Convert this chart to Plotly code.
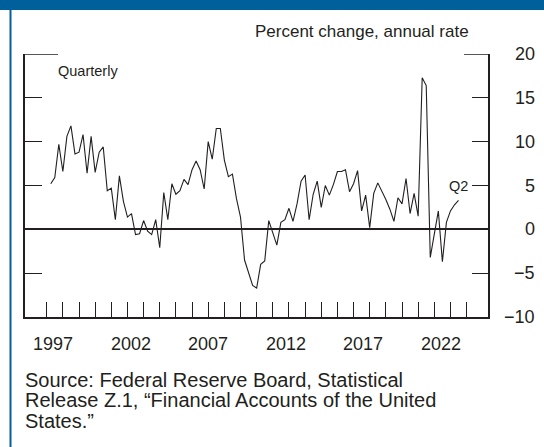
import plotly.graph_objects as go

# ---- data (quarterly, 1997Q1 .. 2022Q2), percent change at annual rate ----
start_year = 1997
values = [
    5.2, 5.9, 9.7, 6.6, 10.6, 11.8, 8.6, 8.8, 10.8, 6.4, 10.6, 6.5,
    8.8, 9.4, 4.4, 4.7, 1.1, 6.1, 3.2, 1.4, 1.8, -0.6, -0.5, 1.0,
    -0.2, -0.6, 1.1, -2.1, 4.2, 1.1, 5.2, 4.0, 4.4, 5.7, 5.1, 6.8,
    7.8, 6.8, 4.6, 10.0, 8.0, 11.5, 11.5, 7.9, 6.0, 6.3, 3.5, 1.4,
    -3.5, -4.9, -6.4, -6.7, -4.0, -3.6, 1.0, -0.4, -1.8, 0.8, 1.1, 2.4,
    0.9, 2.9, 5.5, 6.2, 1.1, 4.0, 5.5, 2.5, 5.0, 3.9, 5.1, 6.6,
    6.6, 6.8, 4.3, 5.2, 6.7, 2.1, 3.9, 0.2, 4.1, 5.3, 4.4, 3.4,
    2.3, 0.9, 3.6, 2.9, 5.8, 1.8, 4.1, 1.5, 17.3, 16.4, -3.2, -0.5,
    2.1, -3.7, 0.8, 2.1, 2.8, 3.3,
]
year_ticks = list(range(1997, 2024))
label_years = [1997, 2002, 2007, 2012, 2017, 2022]
y_ticks = [-5, 5, 10, 15]
y_labels = [20, 15, 10, 5, 0, -5, -10]
unit_text = "Percent change, annual rate"
freq_text = "Quarterly"
last_text = "Q2"
source_lines = [
    "Source: Federal Reserve Board, Statistical",
    "Release Z.1, \u201cFinancial Accounts of the United",
    "States.\u201d",
]

# quarter positions in decimal years (end of quarter)
xq = [start_year + i // 4 + (i % 4 + 1) / 4 for i in range(len(values))]

INK = "#231f20"
BLUE = "#00609a"
FONT = "Liberation Sans, Arial, sans-serif"

W, H = 544, 447
L, R, T, B = 25, 488, 54, 317
pw, ph = R - L, B - T


def px(xp):
    return (xp - L) / pw


def py(yp):
    return (B - yp) / ph


fig = go.Figure()
fig.add_trace(go.Scatter(x=xq, y=values, mode="lines",
                         line=dict(color=INK, width=1.1),
                         hoverinfo="skip", showlegend=False))
fig.add_trace(go.Scatter(x=xq, y=values, mode="lines", yaxis="y2",
                         line=dict(color=INK, width=0), opacity=0,
                         hoverinfo="skip", showlegend=False))

xr = [1995.656, 2024.325]
fig.update_layout(
    width=W, height=H,
    margin=dict(l=L, r=W - R, t=T, b=H - B),
    paper_bgcolor="white", plot_bgcolor="white",
    font=dict(family=FONT, color=INK),
    xaxis=dict(range=xr, showgrid=False, zeroline=False, showline=True,
               linecolor=INK, linewidth=1.5, ticks="inside", ticklen=15,
               tickwidth=1.3, tickcolor=INK, tickvals=year_ticks,
               showticklabels=False, fixedrange=True),
    yaxis=dict(range=[-10, 20], showgrid=False, zeroline=True,
               zerolinecolor=INK, zerolinewidth=1.5, showline=True,
               linecolor=INK, linewidth=1.5, ticks="inside", ticklen=17,
               tickwidth=1.3, tickcolor=INK, tickvals=y_ticks,
               showticklabels=False, fixedrange=True),
    yaxis2=dict(range=[-10, 20], overlaying="y", side="right",
                showgrid=False, zeroline=False, showline=True,
                linecolor=INK, linewidth=1.5, ticks="inside", ticklen=16,
                tickwidth=1.3, tickcolor=INK, tickvals=y_ticks,
                showticklabels=False, fixedrange=True),
)

shapes = [
    # header bar
    dict(type="rect", xref="paper", yref="paper", x0=px(0), x1=px(W),
         y0=py(10), y1=py(0), fillcolor=BLUE, line=dict(width=0), layer="above"),
    # left frame line
    dict(type="line", xref="paper", yref="paper", x0=px(10.5), x1=px(10.5),
         y0=py(H), y1=py(0), line=dict(color=BLUE, width=2)),
    # top partial segments at 20
    dict(type="line", xref="paper", yref="y", x0=0, x1=px(58), y0=20, y1=20,
         line=dict(color=INK, width=1.5)),
    dict(type="line", xref="paper", yref="y", x0=px(464), x1=1, y0=20, y1=20,
         line=dict(color=INK, width=1.5)),
]
fig.update_layout(shapes=shapes)

ann = []
for yr in label_years:
    ann.append(dict(x=yr + 0.39 - 0.04 * (yr - label_years[0]), y=py(343.5),
                    xref="x", yref="paper", text=str(yr), showarrow=False,
                    xanchor="center", yanchor="middle",
                    font=dict(size=18, color=INK)))
for v in y_labels:
    ann.append(dict(x=px(536.5), y=v, xref="paper", yref="y",
                    text=str(v).replace("-", "\u2212"), showarrow=False,
                    xanchor="right", yanchor="middle",
                    font=dict(size=18, color=INK)))
ann.append(dict(x=px(471), y=py(31), xref="paper", yref="paper", text=unit_text,
                showarrow=False, xanchor="right", yanchor="middle",
                font=dict(size=17, color=INK)))
ann.append(dict(x=px(56), y=py(71.5), xref="paper", yref="paper", text=freq_text,
                showarrow=False, xanchor="left", yanchor="middle",
                font=dict(size=14.5, color=INK)))
ann.append(dict(x=xq[-1], y=5, xref="x", yref="y", text=last_text,
                showarrow=False, xanchor="center", yanchor="middle",
                font=dict(size=14.5, color=INK)))
for i, line in enumerate(source_lines):
    ann.append(dict(x=px(23), y=py(379.5 + 20.5 * i), xref="paper", yref="paper",
                    text=line, showarrow=False, xanchor="left", yanchor="middle",
                    font=dict(size=20, color=INK)))
fig.update_layout(annotations=ann)

fig.write_html("out.html", config={"displayModeBar": False},
               post_script="document.body.style.margin='0';document.body.style.overflow='hidden';")
